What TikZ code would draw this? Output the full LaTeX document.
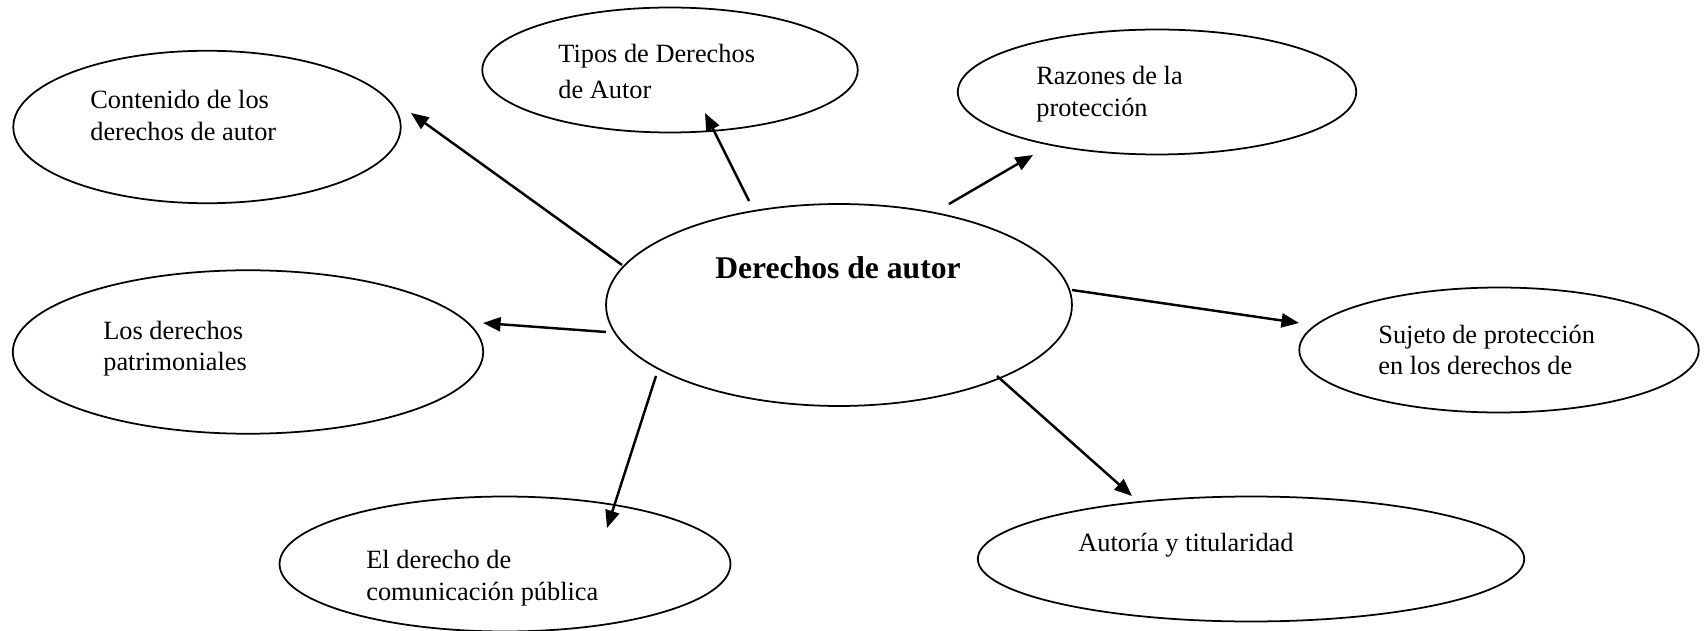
\documentclass[tikz,border=0pt]{standalone}
\usepackage{fontspec}
\setmainfont{Liberation Serif}
\usetikzlibrary{shapes.geometric,arrows.meta,calc}

\begin{document}
\begin{tikzpicture}[x=0.02cm,y=-0.02cm,
    bubble/.style={draw,ellipse,line width=1pt,inner sep=0pt},
    lbl/.style={anchor=north west,align=left,inner sep=0pt,font=\fontsize{15}{18}\selectfont},
    link/.style={line width=1.4pt,-{Triangle[length=10pt,width=8pt]}}]
    \useasboundingbox (0,0) rectangle (1707,631);

    % centre
    \node[bubble,minimum width=9.32cm,minimum height=4.04cm] (hub) at (839,305) {};
    \node[lbl,font=\fontsize{18}{21}\selectfont\bfseries] (hub-t) at (715,256) {Derechos de autor};

    % top row
    \node[bubble,minimum width=7.75cm,minimum height=3.05cm] (cont) at (207,127) {};
    \node[lbl] (cont-t) at (90,90) {Contenido de los\\derechos de autor};

    \node[bubble,minimum width=7.51cm,minimum height=2.50cm] (tipos) at (670,70) {};
    \node[lbl,font=\fontsize{15}{20.5}\selectfont] (tipos-t) at (558,44) {Tipos de Derechos\\de Autor};

    \node[bubble,minimum width=7.97cm,minimum height=2.50cm] (raz) at (1157,92) {};
    \node[lbl] (raz-t) at (1036,66) {Razones de la\\protección};

    % middle row
    \node[bubble,minimum width=9.41cm,minimum height=3.27cm] (pat) at (248,352) {};
    \node[lbl,font=\fontsize{15}{17.5}\selectfont] (pat-t) at (103,321) {Los derechos\\patrimoniales};

    \node[bubble,minimum width=7.99cm,minimum height=2.50cm] (suj) at (1499,350) {};
    \node[lbl,font=\fontsize{15}{17.5}\selectfont] (suj-t) at (1378,325) {Sujeto de protección\\en los derechos de};

    % bottom row
    \node[bubble,minimum width=9.02cm,minimum height=2.70cm] (der) at (505,564) {};
    \node[lbl] (der-t) at (366,550) {El derecho de\\comunicación pública};

    \node[bubble,minimum width=10.93cm,minimum height=2.50cm] (aut) at (1251,559) {};
    \node[lbl] (aut-t) at (1078,533) {Autoría y titularidad};

    % arrows
    \draw[link] ($(hub)+(-217,-40)$) -- ($(cont)+(204,-14)$);
    \draw[link] ($(hub)+(-90,-104)$) -- ($(tipos)+(35,43)$);
    \draw[link] ($(hub)+(110,-101)$) -- ($(raz)+(-124,63)$);
    \draw[link] ($(hub)+(-233,27)$) -- ($(pat)+(235,-29)$);
    \draw[link] ($(hub)+(233,-15)$) -- ($(suj)+(-200,-27)$);
    \draw[link] ($(hub)+(-183,71)$) -- ($(der)+(102,-36)$);
    \draw[link] ($(hub)+(158,71)$) -- ($(aut)+(-119,-63)$);
\end{tikzpicture}
\end{document}
